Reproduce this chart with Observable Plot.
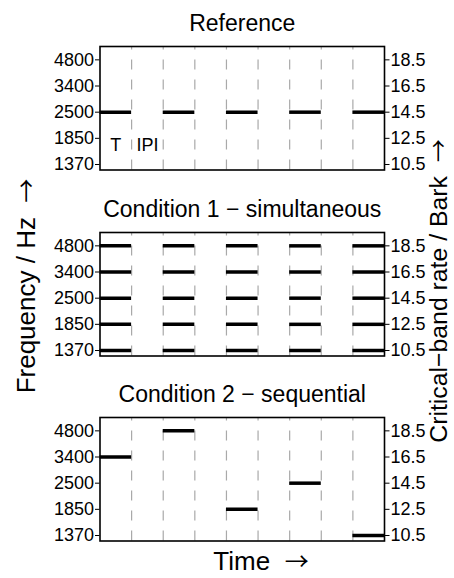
<!DOCTYPE html>
<html>
<head>
<meta charset="utf-8">
<script src="https://cdn.jsdelivr.net/npm/d3@7"></script>
<script src="https://cdn.jsdelivr.net/npm/@observablehq/plot@0.6"></script>
<style>
  html, body { margin: 0; padding: 0; background: white; }
  #chart { position: relative; width: 454px; height: 578px; background: white; font-family: "Liberation Sans", Arial, sans-serif; }
  #chart > svg { position: absolute; left: 0; }
  #chart svg { background: transparent !important; overflow: visible; }
</style>
</head>
<body>
<div id="chart"></div>
<script>
// ---- data ----
const barkTicks = [10.5, 12.5, 14.5, 16.5, 18.5];
const hzLabels = ["1370", "1850", "2500", "3400", "4800"];
const dashTimes = [1, 2, 3, 4, 5, 6, 7, 8];
const toneStarts = [0, 2, 4, 6, 8];
const toneDuration = 1;
const referenceBark = [14.5, 14.5, 14.5, 14.5, 14.5];
const condition1Bark = [10.5, 12.5, 14.5, 16.5, 18.5]; // all simultaneous, every tone slot
const condition2Bark = [16.5, 18.5, 12.5, 14.5, 10.5]; // one per tone slot
const panelTitles = ["Reference", "Condition 1 \u2212 simultaneous", "Condition 2 \u2212 sequential"];
const annotTimes = [0.5, 1.5];
const annotTexts = ["T", "IPI"];
const annotBark = 12;

const yDomain = [10.08, 19.52];
const xDomain = [0, 9];

// tables built from arrays
const refTones = toneStarts.map((t, i) => ({t0: t, t1: t + toneDuration, bark: referenceBark[i]}));
const c1Tones = toneStarts.flatMap(t => condition1Bark.map(b => ({t0: t, t1: t + toneDuration, bark: b})));
const c2Tones = toneStarts.map((t, i) => ({t0: t, t1: t + toneDuration, bark: condition2Bark[i]}));
const annots = annotTimes.map((t, i) => ({t, label: annotTexts[i], bark: annotBark}));

const frameTops = [46, 232.3, 417.3];
const MT = 46, MB = 8, FH = 123.5;
const font = "Liberation Sans, Arial, sans-serif";

function panel(title, tones, extra) {
  return Plot.plot({
    width: 454,
    height: MT + FH + MB,
    marginLeft: 99.5,
    marginRight: 70,
    marginTop: MT,
    marginBottom: MB,
    style: {fontFamily: font, fontSize: "18px", color: "black", background: "transparent", overflow: "visible"},
    x: {domain: xDomain, axis: null},
    y: {domain: yDomain, axis: null},
    marks: [
      Plot.ruleX(dashTimes, {x: d => d, y1: yDomain[0], y2: yDomain[1], stroke: "#a9a9a9", strokeWidth: 1.2, strokeDasharray: "10,10"}),
      Plot.ruleY(tones, {y: "bark", x1: "t0", x2: "t1", stroke: "black", strokeWidth: 3.5}),
      ...(extra || []),
      Plot.axisY({anchor: "left", ticks: barkTicks, tickFormat: d => hzLabels[barkTicks.indexOf(d)], tickSize: 4.5, tickPadding: 1.5, fontSize: 18, label: null}),
      Plot.axisY({anchor: "right", ticks: barkTicks, tickFormat: d => d.toFixed(1), tickSize: 4.5, tickPadding: 1.5, fontSize: 18, label: null}),
      Plot.frame({stroke: "black", strokeWidth: 1.6}),
      Plot.text([title], {frameAnchor: "top", lineAnchor: "bottom", dy: -15.5, text: d => d, fontSize: 23})
    ]
  });
}

const chart = document.getElementById("chart");
const panels = [
  panel(panelTitles[0], refTones, [
    Plot.text(annots, {x: "t", y: "bark", text: "label", fontSize: 18, lineAnchor: "middle"})
  ]),
  panel(panelTitles[1], c1Tones),
  panel(panelTitles[2], c2Tones)
];
panels.forEach((p, i) => {
  p.style.top = (frameTops[i] - MT) + "px";
  chart.appendChild(p);
});

// overlay with outer axis labels
const svg = d3.select(chart).append("svg")
  .attr("width", 454).attr("height", 578)
  .style("top", "0px").style("pointer-events", "none")
  .attr("font-family", font);

function label(sel, main, arrowSize) {
  sel.append("tspan").style("white-space", "pre").text(main + "  ");
  sel.append("tspan").attr("font-family", "Noto Sans CJK SC").attr("font-size", arrowSize).text("\u2192");
}

label(svg.append("text")
  .attr("transform", "translate(35,286) rotate(-90)")
  .attr("text-anchor", "middle").attr("font-size", 26), "Frequency / Hz", 24);

label(svg.append("text")
  .attr("transform", "translate(447,291) rotate(-90)")
  .attr("text-anchor", "middle").attr("font-size", 24.8), "Critical\u2212band rate / Bark", 23);

label(svg.append("text")
  .attr("x", 261).attr("y", 570)
  .attr("text-anchor", "middle").attr("font-size", 26), "Time", 24);
</script>
</body>
</html>
